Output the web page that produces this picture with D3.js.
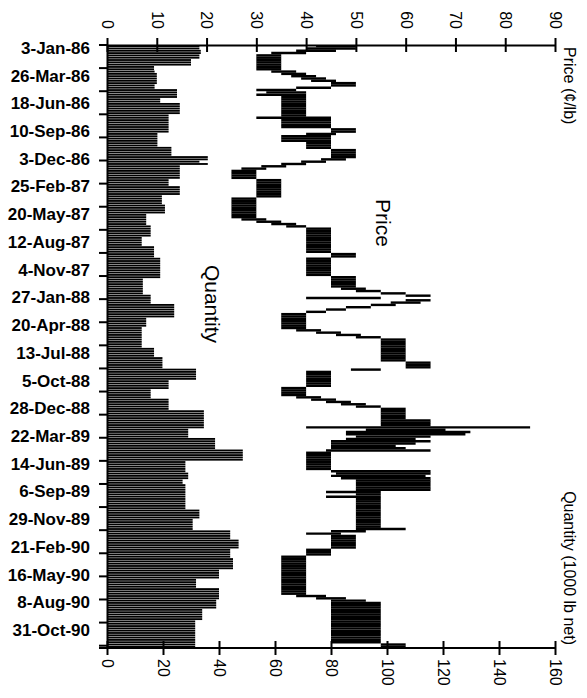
<!DOCTYPE html>
<html><head><meta charset="utf-8">
<script src="https://cdn.jsdelivr.net/npm/d3@7"></script>
<style>
body{margin:0;background:#fff}
text{font-family:"Liberation Sans",Arial,Helvetica,sans-serif;fill:#000}
</style>
</head><body><svg id="c" width="587" height="698"></svg>
<script>
// ---------- DATA ----------
const dateLabels = ["3-Jan-86","26-Mar-86","18-Jun-86","10-Sep-86","3-Dec-86","25-Feb-87","20-May-87",
  "12-Aug-87","4-Nov-87","27-Jan-88","20-Apr-88","13-Jul-88","5-Oct-88","28-Dec-88","22-Mar-89",
  "14-Jun-89","6-Sep-89","29-Nov-89","21-Feb-90","16-May-90","8-Aug-90","31-Oct-90"];
const priceTicks = [0,10,20,30,40,50,60,70,80,90];
const quantityTicks = [0,20,40,60,80,100,120,140,160];

// weekly quantity (1000 lb net)
const quantity = [
 33,33,33.5,33.5,33,33,30,30,30,16.8,
 16.8,17,17.8,17.8,17.8,17.8,17.8,17,17,25,
 25,25,25,19,19,26,26,26,26,26,
 22,22,22,22,22,22,22,22,18,18,
 18,18,18,18,23,23,23,23,36,36,
 33,36,26,26,26,26,26,26,22,22,
 22,26,26,26,26,19.6,19.6,19.6,19.6,20.7,
 20.7,20.7,20.7,14,14,14,14,14,15.6,15.6,
 15.6,15.6,15.6,12.4,12.4,12.4,12.4,16.8,16.8,16.8,
 16.8,16.8,19,19,19,19,19,19,19,19,
 19,12.8,12.8,12.8,12.8,12.8,12.8,12.8,15.6,15.6,
 15.6,15.6,24,24,24,24,24,24,14,14,
 14,14,12.4,12.4,12.4,12.4,12.4,12.4,12.4,12.4,
 12.4,16.8,16.8,16.8,16.8,19.8,19.8,19.8,19.8,19.8,
 31.8,31.8,31.8,31.8,31.8,22,22,22,22,15.6,
 15.6,15.6,15.6,22,22,22,22,22,34.6,34.6,
 34.6,34.6,34.6,34.6,34.6,34.6,29,29,29,29,
 38.6,38.6,38.6,38.6,38.6,48.5,48.5,48.5,48.5,48.5,
 28,28,28,28,28,29,29,29,27,27,
 28,28,28,28,28,28,28,28,28,28,
 28,33,33,33,33,30.6,30.6,30.6,30.6,30.6,
 44,44,44,44,47,47,47,47,44,44,
 44,44,45,45,45,45,45,40,40,40,
 40,31.8,31.8,31.8,31.8,40,40,40,40,40,
 39,39,39,39,34,34,34,34,34,31.5,
 31.5,31.5,31.5,31.5,31.5,31.5,31.5,31.5,31.5,31.5,
 31.5];

// weekly price range (cents/lb): low and high quote
const priceLow = [
 42,40,38,33,30,30,30,30,30,30,
 30,33,35,37,39,41,45,45,38,30,
 32,30,35,35,35,35,35,35,35,35,
 35,30,35,35,35,35,45,45,40,35,
 35,35,40,40,40,45,45,45,45,43,
 39,35,31,27,25,25,25,25,30,30,
 30,30,30,30,30,30,25,25,25,25,
 25,25,25,25,25,27,30,33,36,40,
 40,40,40,40,40,40,40,40,40,40,
 45,45,40,40,40,40,40,40,40,40,
 45,45,45,45,45,47,50,55,60,40,
 60,57,53,48,44,40,35,35,35,35,
 35,35,35,38,42,46,50,55,55,55,
 55,55,55,55,55,55,55,60,60,60,
 49,40,40,40,40,40,40,40,35,35,
 35,35,38,41,44,47,50,55,55,55,
 55,55,55,55,55,40,52,48,48,50,
 48,45,45,45,45,44,40,40,40,40,
 40,40,40,40,45,46,45,47,50,50,
 50,50,50,44,50,44,50,50,50,50,
 50,50,50,50,50,50,50,50,50,50,
 45,40,45,45,45,45,45,45,40,40,
 40,35,35,35,35,35,35,35,35,35,
 35,35,35,35,35,35,35,35,38,42,
 45,45,45,45,45,45,45,45,45,45,
 45,45,45,45,45,45,45,45,45,55,
 55];
const priceHigh = [
 50,50,46,40,35,35,35,35,35,35,
 35,38,40,42,44,46,50,50,45,38,
 40,40,40,40,40,40,40,40,40,40,
 40,45,45,45,45,45,50,50,46,45,
 45,45,45,45,45,50,50,50,50,48,
 44,40,36,32,30,30,30,30,35,35,
 35,35,35,35,35,35,30,30,30,30,
 30,30,30,30,30,32,35,38,40,45,
 45,45,45,45,45,45,45,45,45,45,
 50,50,45,45,45,45,45,45,45,45,
 50,50,50,50,50,52,55,60,65,55,
 65,63,58,53,48,44,40,40,40,40,
 40,40,40,43,47,51,55,60,60,60,
 60,60,60,60,60,60,60,65,65,65,
 55,45,45,45,45,45,45,45,40,40,
 40,40,43,46,49,52,55,60,60,60,
 60,60,65,65,65,85,68,73,72,65,
 62,65,62,58,60,65,45,45,45,45,
 45,45,45,45,65,65,64,65,65,65,
 65,65,65,55,55,55,55,55,55,55,
 55,55,55,55,55,55,55,55,55,60,
 52,47,50,50,50,50,50,50,45,45,
 45,40,40,40,40,40,40,40,40,40,
 40,40,40,40,40,40,40,40,44,48,
 52,55,55,55,55,55,55,55,55,55,
 55,55,55,55,55,55,55,55,55,60,
 60];

// ---------- CHART ----------
const svg = d3.select("#c");
const plot = {left:107, right:555, top:45, bottom:648};

const fmt = d3.timeFormat("%-d-%b-%y");
const firstDay = new Date(1986,0,3), secondDay = new Date(1986,0,8);
const weeks = quantity.map((_, i) => i === 0 ? fmt(firstDay) : fmt(d3.timeDay.offset(secondDay, 7*(i-1))));

const y = d3.scaleBand().domain(weeks).range([plot.top, plot.bottom]).padding(0);
const bw = y.bandwidth();
const px = d3.scaleLinear().domain([0,90]).range([plot.left, plot.right]);
const qx = d3.scaleLinear().domain([0,160]).range([plot.left, plot.right]);

// bars
svg.append("g").selectAll("rect").data(quantity).join("rect")
  .attr("x", qx(0))
  .attr("y", (d,i) => y(weeks[i]) + bw*0.1)
  .attr("width", d => qx(d) - qx(0))
  .attr("height", bw*0.8)
  .attr("fill", "#000");

// price ranges
svg.append("g").selectAll("line").data(priceLow).join("line")
  .attr("x1", d => px(d))
  .attr("x2", (d,i) => px(priceHigh[i]))
  .attr("y1", (d,i) => y(weeks[i]) + bw/2)
  .attr("y2", (d,i) => y(weeks[i]) + bw/2)
  .attr("stroke", "#000")
  .attr("stroke-width", bw*1.05);

// left (category) axis
const leftAxis = svg.append("g").attr("transform", `translate(${plot.left},0)`)
  .call(d3.axisLeft(y).tickValues(dateLabels).tickSize(0).tickSizeOuter(0).tickPadding(17));
leftAxis.select(".domain").attr("stroke","#000").attr("stroke-width",2);
leftAxis.selectAll("text").attr("font-size","17px").attr("font-weight","bold")
  .attr("dy","0.45em").attr("font-family",null);

const tickWeeks = weeks.filter((d,i) => i % 10 === 0);
svg.append("g").selectAll("line").data(tickWeeks).join("line")
  .attr("x1", plot.left - 8).attr("x2", plot.left)
  .attr("y1", d => y(d)).attr("y2", d => y(d))
  .attr("stroke","#000").attr("stroke-width",2);

// top (price) axis
const topAxis = svg.append("g").attr("transform", `translate(0,${plot.top})`)
  .call(d3.axisTop(px).tickValues(priceTicks).tickSize(7).tickSizeOuter(0));
topAxis.select(".domain").attr("stroke-width",2);
topAxis.selectAll(".tick line").attr("y1",7).attr("stroke-width",2);
topAxis.selectAll(".tick text")
  .attr("font-family",null).attr("font-size","16px")
  .attr("y",0).attr("dy","0.35em").attr("text-anchor","end")
  .attr("transform","translate(0,-16) rotate(90)");

// bottom (quantity) axis
const botAxis = svg.append("g").attr("transform", `translate(0,${plot.bottom})`)
  .call(d3.axisBottom(qx).tickValues(quantityTicks).tickSize(7).tickSizeOuter(0));
botAxis.select(".domain").attr("stroke-width",2).attr("d", `M${plot.left-8},0H${plot.right}`);
botAxis.selectAll(".tick line").attr("y1",-7).attr("stroke-width",2);
botAxis.selectAll(".tick text")
  .attr("font-family",null).attr("font-size","16px")
  .attr("y",0).attr("dy","0.35em").attr("text-anchor","start")
  .attr("transform","translate(0,11) rotate(90)");

// titles
svg.append("text").attr("transform","translate(570,47) rotate(90)")
  .attr("dy","0.35em").attr("font-size","16px").attr("text-anchor","start").text("Price (¢/lb)");
svg.append("text").attr("transform","translate(570,645) rotate(90)")
  .attr("dy","0.35em").attr("font-size","16px").attr("text-anchor","end").text("Quantity (1000 lb net)");
svg.append("text").attr("transform","translate(383,223) rotate(90)")
  .attr("dy","0.35em").attr("font-size","21px").attr("text-anchor","middle").text("Price");
svg.append("text").attr("transform","translate(212,304) rotate(90)")
  .attr("dy","0.35em").attr("font-size","21px").attr("text-anchor","middle").text("Quantity");
</script>
</body></html>
